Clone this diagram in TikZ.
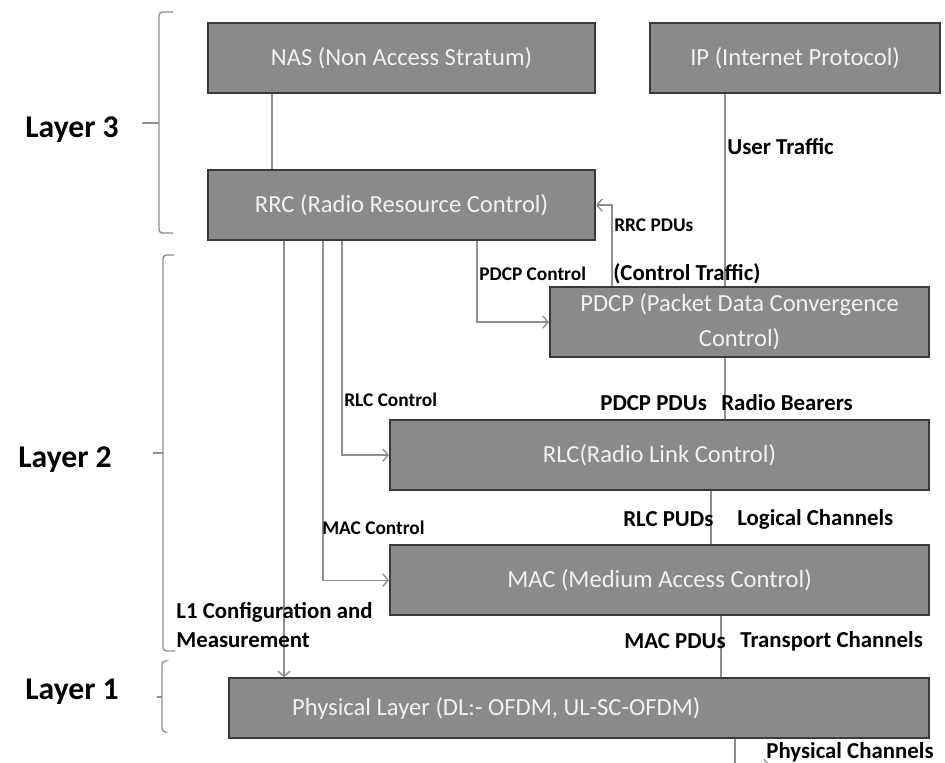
\documentclass[tikz,border=0pt]{standalone}
\usepackage{fontspec}
\setmainfont{Carlito}
\usetikzlibrary{arrows.meta,positioning}
\definecolor{CajaGris}{HTML}{8A8A8A}
\definecolor{BordeGris}{HTML}{3A3A3A}
\definecolor{LineaGris}{HTML}{8F8F8F}
\definecolor{TextoCaja}{HTML}{F2F2F2}
\tikzset{
  caja/.style        = {draw=BordeGris, line width=1.2pt, fill=CajaGris, text=TextoCaja,
                        align=center, font=\fontsize{14}{20}\selectfont,
                        minimum height=14mm, inner sep=2pt},
  linea/.style       = {draw=LineaGris, line width=0.8pt},
  flecha/.style      = {linea, -{Straight Barb[length=3pt,width=7pt]}},
  rotulo/.style      = {font=\bfseries\fontsize{13}{16}\selectfont, inner sep=0pt, anchor=west},
  rotulochico/.style = {rotulo, font=\bfseries\fontsize{11}{13}\selectfont},
  capa/.style        = {font=\bfseries\fontsize{18}{21}\selectfont, inner sep=0pt, anchor=west},
  llave/.style       = {draw=LineaGris, line width=0.8pt, rounded corners=2pt},
}
\begin{document}
\begin{tikzpicture}[x=0.02cm, y=-0.02cm]
  \useasboundingbox (0,0) rectangle (945,762);

  % Capa 3
  \node[caja, minimum width=77.4mm, anchor=north west] (nas) at (207,22) {NAS (Non Access Stratum)};
  \node[caja, minimum width=58mm, right=10.6mm of nas] (ip) {IP (Internet Protocol)};
  \node[caja, minimum width=77.4mm, below=15mm of nas] (rrc) {RRC (Radio Resource Control)};

  % Capa 2
  \node[caja, minimum width=75.8mm, anchor=north west] (pdcp) at (549,286) {PDCP (Packet Data Convergence\\Control)};
  \node[caja, minimum width=107.8mm, below=12.2mm of pdcp.south east, anchor=north east] (rlc) {RLC(Radio Link Control)};
  \node[caja, minimum width=107.8mm, below=10.6mm of rlc] (mac) {MAC (Medium Access Control)};

  % Capa 1
  \node[caja, minimum height=12mm, inner xsep=12.6mm,
        below=12.2mm of mac.south east, anchor=north east] (phy)
        {\makebox[114.8mm][l]{Physical Layer (DL:- OFDM, UL-SC-OFDM)}};

  % control desde RRC
  \draw[linea] ([xshift=13mm]nas.south west) -- ([xshift=13mm]rrc.north west);
  \coordinate (l1) at ([xshift=15.4mm]rrc.south west);
  \draw[flecha] (l1) -- (l1 |- phy.north);
  \draw[flecha] ([xshift=23.2mm]rrc.south west) |- (mac.west);
  \draw[flecha] ([xshift=27mm]rrc.south west) |- (rlc.west);
  \draw[flecha] ([xshift=54mm]rrc.south west) |- (pdcp.west);
  \draw[flecha] ([xshift=12.6mm]pdcp.north west) |- (rrc.east);

  % trafico de usuario
  \coordinate (ut) at ([xshift=15.2mm]ip.south west);
  \draw[linea] (ut) -- (ut |- pdcp.north);
  \draw[linea] (ut |- pdcp.south) -- (ut |- rlc.north);
  \draw[linea] ([xshift=-43.8mm]rlc.south east) -- ([xshift=-43.8mm]mac.north east);
  \draw[linea] ([xshift=-41.8mm]mac.south east) -- ([xshift=-41.8mm]phy.north east);
  \coordinate (pch) at ([xshift=-39mm]phy.south east);
  \coordinate (pchfin) at ([shift={(7mm,-5.2mm)}]pch);
  \draw[flecha] (pch) |- (pchfin);

  % rotulos
  \node[rotulo] (lut) at (727,147) {User Traffic};
  \node[rotulochico] (lrrcpdu) at (614,225) {RRC PDUs};
  \node[rotulochico] (lpdcpc) at (479,274) {PDCP Control};
  \node[rotulo] (lct) at (613,274) {(Control Traffic)};
  \node[rotulochico] (lrlcc) at (344,400) {RLC Control};
  \node[rotulochico] (lmacc) at (322,528) {MAC Control};
  \node[rotulo] (lpdcppdu) at (600,403) {PDCP PDUs};
  \node[rotulo] (lrb) at (721,403) {Radio Bearers};
  \node[rotulo] (lrlcpdu) at (623,519) {RLC PUDs};
  \node[rotulo] (llc) at (737,519) {Logical Channels};
  \node[rotulo, align=left] (ll1) at (176,625) {L1 Configuration and\\Measurement};
  \node[rotulo] (lmacpdu) at (624,641) {MAC PDUs};
  \node[rotulo] (ltc) at (740,641) {Transport Channels};
  \node[rotulo] (lpc) at (766,752) {Physical Channels};

  % capas
  \node[capa] (c3) at (25,130) {Layer 3};
  \node[capa] (c2) at (18,460) {Layer 2};
  \node[capa] (c1) at (25,692) {Layer 1};
  \draw[llave] (173,12) -- (159,12) -- (159,233) -- (173,233);
  \draw[llave] (159,123) -- (142,123);
  \draw[llave] (174,255) -- (163,255) -- (163,651) -- (175,651);
  \draw[llave] (163,453) -- (153,453);
  \draw[llave] (165,661) -- (162,661) -- (162,732) -- (165,732);
  \draw[llave] (162,697) -- (157,697);
\end{tikzpicture}
\end{document}
